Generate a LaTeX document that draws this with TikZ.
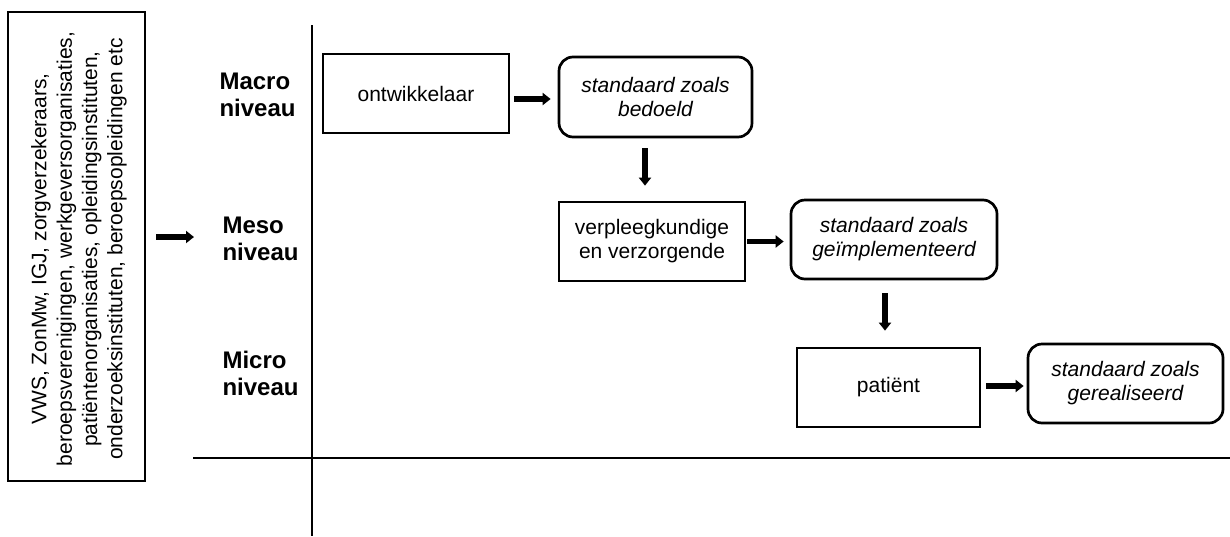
\documentclass[tikz,border=0pt]{standalone}
\usepackage{fontspec}
\setmainfont{Liberation Sans}
\usetikzlibrary{arrows.meta,calc}
\begin{document}
\begin{tikzpicture}[x=1pt,y=-1pt,
  box/.style={draw,line width=2.7pt,align=center,inner sep=0pt,font=\fontsize{21}{24}\selectfont},
  rbox/.style={box,rounded corners=14pt,font=\fontsize{21}{24}\selectfont\itshape},
  arr/.style={line width=5.5pt,-{Triangle[length=8pt,width=12pt]}},
  axis/.style={line width=2.7pt},
  lvl/.style={anchor=west,align=left,font=\fontsize{24}{27}\selectfont\bfseries}]
\useasboundingbox (0,0) rectangle (1230,536);
% left box
\node[box,minimum width=137pt,minimum height=469pt] (lbox) at (76.5,246.5) {};
\node[rotate=90,align=center,font=\fontsize{21}{25.3}\selectfont] (ltext) at (79,249)
 {VWS, ZonMw, IGJ, zorgverzekeraars,\\beroepsverenigingen, werkgeversorganisaties,\\pati\"entenorganisaties, opleidingsinstituten,\\onderzoeksinstituten, beroepsopleidingen etc};
\coordinate (la) at (194,237);
\draw[arr,shorten <=10pt] (lbox.east |- la) -- (la);
% axes
\coordinate (vt) at (312,25);
\coordinate (vb) at (312,536);
\coordinate (hl) at (193,458);
\coordinate (hr) at (1230,458);
\draw[axis] (vt) -- (vb);
\draw[axis] (hl) -- (hr);
% level labels
\node[lvl] (macro) at (216,94.5) {Macro\\niveau};
\node[lvl] (meso) at (219,239) {Meso\\niveau};
\node[lvl] (micro) at (219,373.5) {Micro\\niveau};
% boxes
\node[box,minimum width=186pt,minimum height=79pt] (ontw) at (416,93.5) {ontwikkelaar};
\node[rbox,minimum width=193pt,minimum height=80pt] (bedoeld) at (655.5,97) {standaard zoals\\bedoeld};
\node[box,minimum width=186pt,minimum height=79pt] (verpl) at (652,241.5) {verpleegkundige\\en verzorgende};
\node[rbox,minimum width=206pt,minimum height=79pt] (geimpl) at (894,239.5) {standaard zoals\\ge\"implementeerd};
\node[box,minimum width=183pt,minimum height=79pt] (pat) at (888.5,387.5) {pati\"ent};
\node[rbox,minimum width=195pt,minimum height=79pt] (gereal) at (1125.5,383.5) {standaard zoals\\gerealiseerd};
% arrows
\draw[arr,shorten <=4pt,shorten >=7pt] ([yshift=-5.5pt]ontw.east) -- ([yshift=-5.5pt]ontw.east -| bedoeld.west);
\draw[arr,shorten <=10pt,shorten >=15pt] ([xshift=-10.5pt]bedoeld.south) -- ([xshift=-10.5pt]bedoeld.south |- verpl.north);
\draw[arr,shorten <=1pt,shorten >=6pt] (verpl.east) -- (verpl.east -| geimpl.west);
\draw[arr,shorten <=13pt,shorten >=16pt] ([xshift=-9pt]geimpl.south) -- ([xshift=-9pt]geimpl.south |- pat.north);
\draw[arr,shorten <=5pt,shorten >=3pt] ([yshift=1.5pt]pat.east) -- ([yshift=1.5pt]pat.east -| gereal.west);
\end{tikzpicture}
\end{document}
